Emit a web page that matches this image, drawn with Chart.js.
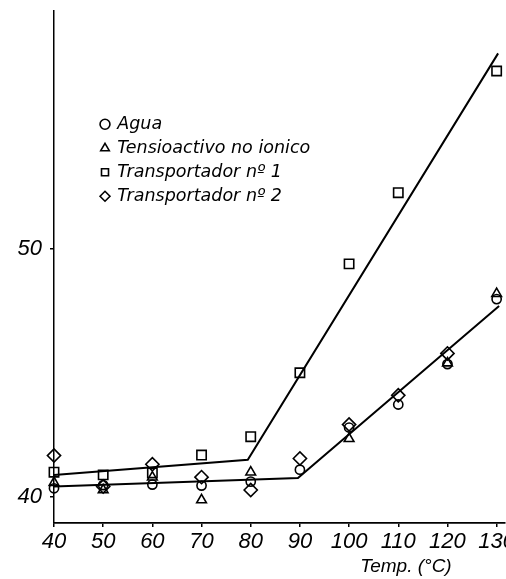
<!DOCTYPE html>
<html>
<head>
<meta charset="utf-8">
<script src="https://cdn.jsdelivr.net/npm/chart.js@4/dist/chart.umd.min.js"></script>
<style>
  html, body { margin: 0; padding: 0; background: #ffffff; }
  #wrap { width: 506px; height: 579px; position: relative; }
</style>
</head>
<body>
<div id="wrap"><canvas id="c" width="506" height="579"></canvas></div>
<script>
// ---- data ----
const temps = [40, 50, 60, 70, 80, 90, 100, 110, 120, 130];
const agua          = [40.35, 40.48, 40.50, 40.46, 40.62, 41.10, 42.80, 43.73, 45.36, 47.98];
const tensioactivo  = [40.58, 40.28, 40.80, 39.88, 41.00, null, 42.35, null, 45.40, 48.20];
const transportador1 = [41.00, 40.89, 40.97, 41.69, 42.43, 45.01, 49.40, 52.27, null, 57.18];
const transportador2 = [41.67, 40.42, 41.32, 40.80, 40.28, 41.55, 42.92, 44.10, 45.79, null];

// fitted lines
const fitN1X = [40, 79.4, 130.3];
const fitN1Y = [40.89, 41.50, 57.89];
const fitComunX = [40, 89.6, 130.5];
const fitComunY = [40.42, 40.76, 47.70];

const xTicks = [40, 50, 60, 70, 80, 90, 100, 110, 120, 130];
const yTicks = [40, 50];

const labels = ['Agua', 'Tensioactivo no ionico', 'Transportador nº 1', 'Transportador nº 2'];
const axisTitle = 'Temp. (°C)';

function pts(xs, ys) {
  const out = [];
  xs.forEach((x, i) => { if (ys[i] !== null) out.push({x: x, y: ys[i]}); });
  return out;
}

const FONT = "'Liberation Sans', Arial, sans-serif";
const LFONT = "'DejaVu Sans', sans-serif";

function markerSet(label, data, style, r) {
  return {
    label: label,
    data: pts(temps, data),
    pointStyle: style,
    pointRadius: r,
    pointHoverRadius: r,
    borderColor: '#000',
    backgroundColor: 'rgba(0,0,0,0)',
    borderWidth: 1.6,
    showLine: false,
    clip: false
  };
}

function lineSet(xs, ys) {
  return {
    label: '_fit',
    data: pts(xs, ys),
    showLine: true,
    pointRadius: 0,
    borderColor: '#000',
    borderWidth: 2,
    tension: 0,
    fill: false,
    clip: false
  };
}

const titlePlugin = {
  id: 'axisTitleText',
  afterLayout(chart) {
    const lg = chart.legend;
    if (lg) {
      const dx = 95 - lg.left, dy = 109 - lg.top;
      lg.left += dx; lg.right += dx; lg.top += dy; lg.bottom += dy;
    }
  },
  afterDraw(chart) {
    const ctx = chart.ctx;
    ctx.save();
    ctx.font = 'italic 19px ' + FONT;
    ctx.fillStyle = '#000';
    ctx.textAlign = 'center';
    ctx.textBaseline = 'middle';
    ctx.fillText(axisTitle, 406, 567);
    ctx.restore();
  }
};

new Chart(document.getElementById('c'), {
  type: 'scatter',
  data: {
    datasets: [
      markerSet(labels[0], agua, 'circle', 4.6),
      markerSet(labels[1], tensioactivo, 'triangle', 5.6),
      markerSet(labels[2], transportador1, 'rect', 6.6),
      markerSet(labels[3], transportador2, 'rectRot', 6.6),
      lineSet(fitN1X, fitN1Y),
      lineSet(fitComunX, fitComunY)
    ]
  },
  options: {
    responsive: false,
    animation: false,
    devicePixelRatio: 1,
    layout: { autoPadding: false, padding: { top: 11, right: 1, left: 0, bottom: 0 } },
    plugins: {
      tooltip: { enabled: false },
      legend: {
        display: true,
        position: 'chartArea',
        align: 'start',
        labels: {
          usePointStyle: true,
          boxWidth: 7,
          boxHeight: 7,
          padding: 6.5,
          color: '#000',
          font: { family: LFONT, size: 17.5, style: 'italic' },
          filter: (item) => item.text !== '_fit'
        }
      }
    },
    scales: {
      x: {
        type: 'linear',
        min: 40,
        max: 131.7,
        afterBuildTicks: (s) => { s.ticks = xTicks.map(v => ({value: v})); },
        afterFit: (s) => { s.height = 56; s.paddingLeft = 0; s.paddingRight = 0; },
        grid: { display: true, drawOnChartArea: false, drawTicks: true, tickLength: 4, color: '#000', lineWidth: 1.5 },
        border: { display: true, color: '#000', width: 1.8 },
        ticks: { color: '#000', padding: 2, maxRotation: 0, autoSkip: false, font: { family: FONT, size: 22, style: 'italic' } }
      },
      y: {
        type: 'linear',
        min: 38.95,
        max: 59.6,
        afterBuildTicks: (s) => { s.ticks = yTicks.map(v => ({value: v})); },
        afterFit: (s) => { s.width = 54; s.paddingTop = 0; s.paddingBottom = 0; },
        grid: { display: true, drawOnChartArea: false, drawTicks: true, tickLength: 4, color: '#000', lineWidth: 1.5 },
        border: { display: true, color: '#000', width: 1.5 },
        ticks: { color: '#000', padding: 8, font: { family: FONT, size: 22, style: 'italic' } }
      }
    }
  },
  plugins: [titlePlugin]
});
</script>
</body>
</html>
